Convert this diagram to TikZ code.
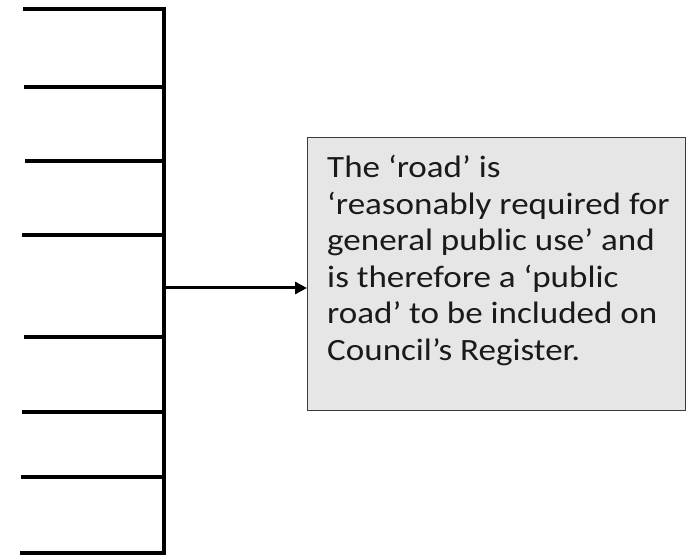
\documentclass[tikz,border=0pt]{standalone}
\usepackage{fontspec}
\setmainfont{Carlito}
\usetikzlibrary{arrows.meta}
\definecolor{boxfill}{HTML}{E6E6E6}
\definecolor{boxline}{HTML}{3A3A3A}
\definecolor{textcol}{HTML}{1A1A1A}
\tikzset{
  branch/.style={line width=3.8pt, line cap=butt},
  pointer/.style={line width=3pt, -{Triangle[length=12pt,width=12pt]}},
  notebox/.style={draw=boxline, fill=boxfill, line width=1.3pt}
}
\begin{document}
\begin{tikzpicture}[x=1pt,y=-1pt]
  \useasboundingbox (0,0) rectangle (686,556);
  % spine
  \coordinate (top) at (164,7);
  \coordinate (bot) at (164,555);
  \draw[branch] (top) -- (bot);
  % side branches: left end and join on the spine
  \foreach \i/\y/\x in {1/9/23, 2/87/24, 3/161/25, 4/235/22, 5/337/24, 6/412/22, 7/477/21, 8/553/20}{
    \coordinate (l\i) at (\x,\y);
    \coordinate (r\i) at (164,\y);
    \draw[branch] (l\i) -- (r\i);
  }
  % statement box
  \node[notebox, minimum width=378pt, minimum height=273pt, anchor=north west]
    (box) at (307,137) {};
  \node[anchor=north west, inner sep=0pt, text=textcol, align=left,
        xscale=1.13, transform shape,
        font=\fontsize{31}{36.6}\selectfont] (txt) at (327,155)
    {The ‘road’ is\\
     ‘reasonably required for\\
     general public use’ and\\
     is therefore a ‘public\\
     road’ to be included on\\
     Council’s Register.};
  \coordinate (from) at (164,288);
  \draw[pointer] (from) -- (box.west |- from);
\end{tikzpicture}
\end{document}
